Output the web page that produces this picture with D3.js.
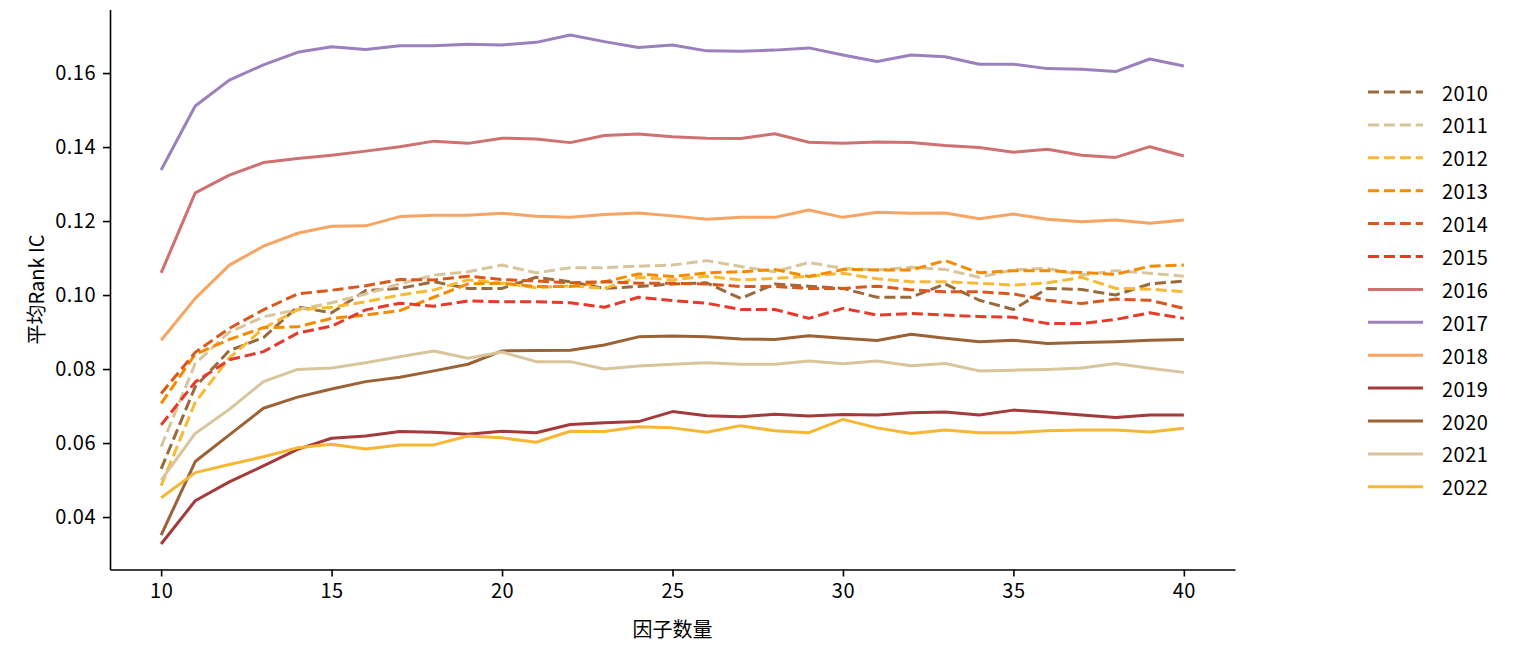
<!DOCTYPE html>
<html>
<head>
<meta charset="utf-8">
<script src="https://cdn.jsdelivr.net/npm/d3@7"></script>
<style>
  body { margin: 0; background: #fff; }
  text { font-family: "Noto Sans CJK SC", "DejaVu Sans", sans-serif; }
</style>
</head>
<body>
<div id="chart"></div>
<script>
// x axis: number of factors
var factorCounts = [10, 11, 12, 13, 14, 15, 16, 17, 18, 19, 20, 21, 22, 23, 24, 25,
  26, 27, 28, 29, 30, 31, 32, 33, 34, 35, 36, 37, 38, 39, 40];

var years = ["2010", "2011", "2012", "2013", "2014", "2015", "2016",
  "2017", "2018", "2019", "2020", "2021", "2022"];

// mean Rank IC per year
var ic2010 = [0.0530, 0.0752, 0.0850, 0.0885, 0.0968, 0.0952, 0.1012, 0.1018, 0.1036, 0.1018, 0.1018,
  0.1048, 0.1036, 0.1018, 0.1023, 0.1030, 0.1033, 0.0991, 0.1030, 0.1024, 0.1018,
  0.0994, 0.0994, 0.1030, 0.0986, 0.0961, 0.1018, 0.1015, 0.1000, 0.1030, 0.1038];
var ic2011 = [0.0590, 0.0815, 0.0900, 0.0941, 0.0961, 0.0979, 0.1003, 0.1030, 0.1054, 0.1063, 0.1081,
  0.1060, 0.1074, 0.1074, 0.1078, 0.1081, 0.1093, 0.1077, 0.1063, 0.1088, 0.1072,
  0.1068, 0.1075, 0.1069, 0.1048, 0.1068, 0.1072, 0.1054, 0.1066, 0.1059, 0.1051];
var ic2012 = [0.0485, 0.0710, 0.0830, 0.0910, 0.0960, 0.0967, 0.0982, 0.1000, 0.1014, 0.1041, 0.1032,
  0.1020, 0.1025, 0.1018, 0.1048, 0.1041, 0.1051, 0.1041, 0.1045, 0.1051, 0.1059,
  0.1044, 0.1036, 0.1036, 0.1032, 0.1027, 0.1033, 0.1048, 0.1018, 0.1016, 0.1009];
var ic2013 = [0.0707, 0.0840, 0.0880, 0.0912, 0.0914, 0.0937, 0.0946, 0.0958, 0.0994, 0.1030, 0.1032,
  0.1023, 0.1023, 0.1036, 0.1057, 0.1050, 0.1060, 0.1063, 0.1069, 0.1050, 0.1069,
  0.1068, 0.1068, 0.1093, 0.1060, 0.1066, 0.1066, 0.1061, 0.1056, 0.1078, 0.1081];
var ic2014 = [0.0734, 0.0845, 0.0910, 0.0960, 0.1003, 0.1013, 0.1025, 0.1042, 0.1041, 0.1051, 0.1042,
  0.1038, 0.1033, 0.1036, 0.1032, 0.1032, 0.1030, 0.1023, 0.1023, 0.1018, 0.1018,
  0.1024, 0.1014, 0.1009, 0.1009, 0.1003, 0.0986, 0.0977, 0.0989, 0.0986, 0.0964];
var ic2015 = [0.0649, 0.0765, 0.0825, 0.0847, 0.0897, 0.0916, 0.0960, 0.0978, 0.0970, 0.0984, 0.0982,
  0.0982, 0.0979, 0.0967, 0.0994, 0.0985, 0.0978, 0.0961, 0.0961, 0.0937, 0.0964,
  0.0946, 0.0950, 0.0946, 0.0942, 0.0940, 0.0923, 0.0923, 0.0934, 0.0952, 0.0937];
var ic2016 = [0.1060, 0.1276, 0.1324, 0.1358, 0.1369, 0.1378, 0.1389, 0.1401, 0.1416, 0.1410, 0.1424,
  0.1422, 0.1412, 0.1431, 0.1435, 0.1428, 0.1424, 0.1423, 0.1436, 0.1413, 0.1410,
  0.1414, 0.1412, 0.1404, 0.1399, 0.1386, 0.1394, 0.1378, 0.1372, 0.1401, 0.1376];
var ic2017 = [0.1338, 0.1511, 0.1581, 0.1622, 0.1656, 0.1671, 0.1664, 0.1674, 0.1674, 0.1678, 0.1676,
  0.1683, 0.1703, 0.1685, 0.1669, 0.1676, 0.1660, 0.1659, 0.1662, 0.1668, 0.1649,
  0.1631, 0.1649, 0.1644, 0.1624, 0.1624, 0.1612, 0.1610, 0.1604, 0.1638, 0.1619];
var ic2018 = [0.0878, 0.0991, 0.1081, 0.1132, 0.1167, 0.1186, 0.1187, 0.1212, 0.1216, 0.1216, 0.1221,
  0.1213, 0.1210, 0.1218, 0.1222, 0.1214, 0.1205, 0.1210, 0.1210, 0.1230, 0.1210,
  0.1224, 0.1221, 0.1222, 0.1206, 0.1219, 0.1205, 0.1198, 0.1203, 0.1194, 0.1203];
var ic2019 = [0.0327, 0.0444, 0.0495, 0.0538, 0.0583, 0.0613, 0.0619, 0.0631, 0.0629, 0.0624, 0.0632,
  0.0628, 0.0650, 0.0655, 0.0658, 0.0685, 0.0674, 0.0671, 0.0678, 0.0673, 0.0677,
  0.0676, 0.0682, 0.0684, 0.0676, 0.0689, 0.0683, 0.0676, 0.0669, 0.0676, 0.0676];
var ic2020 = [0.0351, 0.0550, 0.0622, 0.0694, 0.0724, 0.0746, 0.0766, 0.0778, 0.0795, 0.0813, 0.0849,
  0.0850, 0.0851, 0.0865, 0.0887, 0.0889, 0.0887, 0.0881, 0.0880, 0.0890, 0.0883,
  0.0877, 0.0894, 0.0883, 0.0874, 0.0878, 0.0869, 0.0872, 0.0874, 0.0878, 0.0880];
var ic2021 = [0.0500, 0.0626, 0.0691, 0.0766, 0.0799, 0.0803, 0.0817, 0.0833, 0.0849, 0.0829, 0.0846,
  0.0820, 0.0820, 0.0800, 0.0808, 0.0813, 0.0817, 0.0813, 0.0813, 0.0822, 0.0814,
  0.0822, 0.0809, 0.0815, 0.0795, 0.0797, 0.0799, 0.0803, 0.0815, 0.0802, 0.0791];
var ic2022 = [0.0452, 0.0520, 0.0542, 0.0563, 0.0587, 0.0597, 0.0584, 0.0595, 0.0595, 0.0619, 0.0614,
  0.0602, 0.0632, 0.0631, 0.0644, 0.0641, 0.0629, 0.0647, 0.0633, 0.0628, 0.0664,
  0.0641, 0.0626, 0.0635, 0.0628, 0.0628, 0.0633, 0.0635, 0.0635, 0.0630, 0.0640];

var yTicks = [0.04, 0.06, 0.08, 0.10, 0.12, 0.14, 0.16];
var xTicks = [10, 15, 20, 25, 30, 35, 40];

var allSeries = [ic2010, ic2011, ic2012, ic2013, ic2014, ic2015, ic2016,
  ic2017, ic2018, ic2019, ic2020, ic2021, ic2022];

var colors = ["#9b6a3c", "#d9c59c", "#f9b935", "#f68b00", "#d9581b", "#e63a2b", "#d07171",
  "#9b80bd", "#f8a462", "#a33a3b", "#9b6236", "#d9c59c", "#f7b733"];

var svgWidth = 1518;
var svgHeight = 648;

var margin = { top: 9.5, left: 110 };
var width = 1125;
var height = 560;

var svg = d3.select("#chart")
  .append("svg")
  .attr("width", svgWidth)
  .attr("height", svgHeight);

var chartGroup = svg.append("g")
  .attr("transform", `translate(${margin.left}, ${margin.top})`);

// matplotlib style 5% padding on both axes
var xMin = d3.min(factorCounts), xMax = d3.max(factorCounts);
var xPad = (xMax - xMin) * 0.05;
var xLinearScale = d3.scaleLinear()
  .domain([xMin - xPad, xMax + xPad])
  .range([0, width]);

var yMin = d3.min(allSeries, s => d3.min(s));
var yMax = d3.max(allSeries, s => d3.max(s));
var yPad = (yMax - yMin) * 0.05;
var yLinearScale = d3.scaleLinear()
  .domain([yMin - yPad, yMax + yPad])
  .range([height, 0]);

var bottomAxis = d3.axisBottom(xLinearScale)
  .tickValues(xTicks)
  .tickSizeInner(7)
  .tickSizeOuter(0)
  .tickPadding(7)
  .tickFormat(d3.format("d"));

var leftAxis = d3.axisLeft(yLinearScale)
  .tickValues(yTicks)
  .tickSizeInner(7)
  .tickSizeOuter(0)
  .tickPadding(7)
  .tickFormat(d3.format(".2f"));

var xAxis = chartGroup.append("g")
  .attr("transform", `translate(0, ${height})`)
  .call(bottomAxis);

var yAxis = chartGroup.append("g")
  .call(leftAxis);

[xAxis, yAxis].forEach(function(ax) {
  ax.select(".domain").attr("stroke", "#000").attr("stroke-width", 1.6);
  ax.selectAll(".tick line").attr("stroke", "#000").attr("stroke-width", 1.6);
  ax.selectAll(".tick text")
    .attr("fill", "#000")
    .style("font-size", "20px")
    .style("letter-spacing", "0.5px")
    .style("font-family", "'Noto Sans CJK SC', sans-serif");
});

// lines
var line = d3.line()
  .x((d, i) => xLinearScale(factorCounts[i]))
  .y(d => yLinearScale(d));

chartGroup.selectAll(".ic-line")
  .data(allSeries)
  .enter()
  .append("path")
  .attr("class", "ic-line")
  .attr("d", d => line(d))
  .attr("fill", "none")
  .attr("stroke", (d, i) => colors[i])
  .attr("stroke-width", 3)
  .attr("stroke-linejoin", "round")
  .attr("stroke-dasharray", (d, i) => i < 6 ? "11.1,4.8" : null);

// axis labels
svg.append("text")
  .attr("transform", `translate(35, ${margin.top + height / 2}) rotate(-90)`)
  .attr("text-anchor", "middle")
  .attr("dominant-baseline", "central")
  .style("font-size", "20px")
  .text("平均Rank IC");

svg.append("text")
  .attr("x", margin.left + width / 2)
  .attr("y", 628)
  .attr("text-anchor", "middle")
  .attr("dominant-baseline", "central")
  .style("font-size", "20px")
  .text("因子数量");

// legend
var legend = svg.append("g")
  .attr("transform", "translate(1368, 92)");

var legendItems = legend.selectAll(".legend-item")
  .data(years)
  .enter()
  .append("g")
  .attr("class", "legend-item")
  .attr("transform", (d, i) => `translate(0, ${i * 32.9})`);

legendItems.append("line")
  .attr("x1", 0)
  .attr("x2", 55)
  .attr("y1", 0)
  .attr("y2", 0)
  .attr("stroke", (d, i) => colors[i])
  .attr("stroke-width", 3)
  .attr("stroke-dasharray", (d, i) => i < 6 ? "11.1,4.8" : null);

legendItems.append("text")
  .attr("x", 74)
  .attr("y", 0)
  .attr("dominant-baseline", "central")
  .style("font-size", "20px")
  .style("letter-spacing", "0.5px")
  .text(d => d);
</script>
</body>
</html>
